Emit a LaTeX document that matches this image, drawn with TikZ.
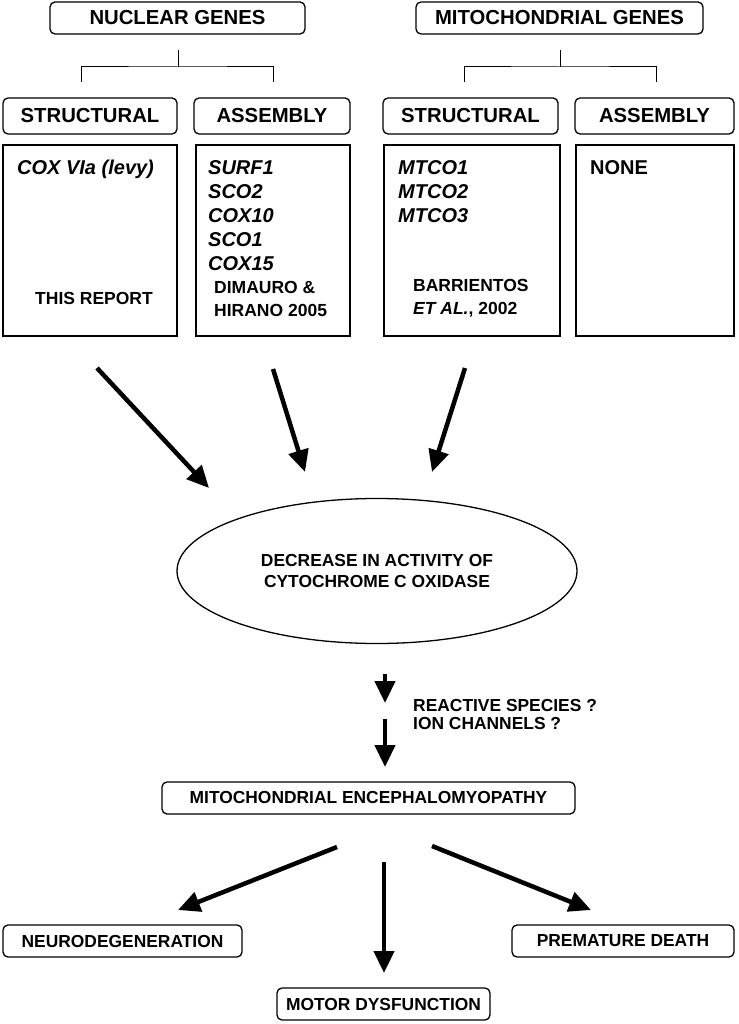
\documentclass[tikz,border=0pt]{standalone}
\usepackage{fontspec}
\setmainfont{Liberation Sans}
\usetikzlibrary{positioning,shapes.geometric,arrows.meta}

\begin{document}
\begin{tikzpicture}[x=1pt, y=-1pt,
    font=\bfseries,
    group/.style={rectangle, rounded corners=5pt, draw, line width=1.3pt, inner sep=0pt,
                  minimum height=32pt, font=\fontsize{20.3}{24}\selectfont\bfseries},
    kind/.style={group, minimum height=36pt},
    listbox/.style={rectangle, draw, line width=1.3pt, inner sep=0pt, minimum height=191pt},
    genes/.style={anchor=north west, align=left, inner sep=0pt,
                  font=\fontsize{20}{24}\selectfont\bfseries\itshape},
    cite/.style={align=left, inner sep=0pt, font=\fontsize{17.5}{23}\selectfont\bfseries},
    effect/.style={rectangle, rounded corners=5pt, draw, line width=1.3pt, inner sep=0pt,
                   minimum height=32pt, font=\fontsize{17.4}{21}\selectfont\bfseries},
    tree/.style={line width=1pt},
    fat/.style={line width=4.5pt, -{Triangle[length=22pt,width=20pt]}},
  ]
  \useasboundingbox (0,0) rectangle (738,1024);

  % NUCLEAR GENES
  \node[group, minimum width=255pt] (ngenes) at (177.5,18) {NUCLEAR GENES};
  \node[kind, minimum width=174pt] (nstruct) at (90,116) {STRUCTURAL};
  \node[kind, minimum width=156pt] (nassem) at (272,116) {ASSEMBLY};
  \node[listbox, minimum width=174pt] (nsbox) at (90,240.5) {};
  \node[listbox, minimum width=154pt] (nabox) at (273,240.5) {};
  \node[genes] (nslist) at (17,160) {COX VIa (levy)};
  \node[genes] (nalist) at (208,160) {SURF1\\SCO2\\COX10\\SCO1\\COX15};
  \node[cite] (nsref) at (94,298) {THIS REPORT};
  \node[cite, anchor=north west] (naref) at (214,281) {DIMAURO \&\\HIRANO 2005};
  \coordinate (ntop) at (178,50);
  \coordinate (njoin) at (178,67);
  \coordinate (nleft) at (81,82);
  \coordinate (nright) at (273,82);
  \draw[tree] (ntop) -- (njoin);
  \draw[tree] (nleft) |- (njoin) -| (nright);

  % MITOCHONDRIAL GENES
  \node[group, minimum width=287pt] (mgenes) at (559.5,18) {MITOCHONDRIAL GENES};
  \node[kind, minimum width=175pt] (mstruct) at (470.5,116) {STRUCTURAL};
  \node[kind, minimum width=159pt] (massem) at (654.5,116) {ASSEMBLY};
  \node[listbox, minimum width=176pt] (msbox) at (472,240.5) {};
  \node[listbox, minimum width=158pt] (mabox) at (655,240.5) {};
  \node[genes] (mslist) at (398,160) {MTCO1\\MTCO2\\MTCO3};
  \node[genes, font=\fontsize{20}{24}\selectfont\bfseries] (malist) at (590,160) {NONE};
  \node[cite, anchor=north west] (msref) at (413,279) {BARRIENTOS\\\textit{ET AL.}, 2002};
  \coordinate (mtop) at (560,50);
  \coordinate (mjoin) at (560,67);
  \coordinate (mleft) at (464,82);
  \coordinate (mright) at (656,82);
  \draw[tree] (mtop) -- (mjoin);
  \draw[tree] (mleft) |- (mjoin) -| (mright);

  % COX DEFICIENCY
  \node[ellipse, draw, line width=1.3pt, inner sep=0pt, minimum width=400pt, minimum height=145pt,
        align=center, font=\fontsize{17.4}{21}\selectfont\bfseries] (cox) at (377,571)
        {DECREASE IN ACTIVITY OF\\CYTOCHROME C OXIDASE};
  \coordinate (a1s) at (97,368);  \coordinate (a1e) at (209,488);
  \coordinate (a2s) at (273,369); \coordinate (a2e) at (305,472);
  \coordinate (a3s) at (465,368); \coordinate (a3e) at (432,472);
  \draw[fat] (a1s) -- (a1e);
  \draw[fat] (a2s) -- (a2e);
  \draw[fat] (a3s) -- (a3e);

  % DISEASE
  \coordinate (s1s) at (385,674); \coordinate (s1e) at (385,703);
  \coordinate (s2s) at (385,719); \coordinate (s2e) at (385,767);
  \draw[fat] (s1s) -- (s1e);
  \draw[fat] (s2s) -- (s2e);
  \node[cite, anchor=north west, font=\fontsize{17.4}{18}\selectfont\bfseries] (why) at (413,699)
        {REACTIVE SPECIES ?\\ION CHANNELS ?};
  \node[effect, minimum width=413pt] (disease) at (368.5,798) {MITOCHONDRIAL ENCEPHALOMYOPATHY};

  % OUTCOMES
  \node[effect, minimum width=239pt] (neuro) at (122.5,941) {NEURODEGENERATION};
  \node[effect, minimum width=222pt] (death) at (623,941) {PREMATURE DEATH};
  \node[effect, minimum width=213pt] (motor) at (383.5,1004) {MOTOR DYSFUNCTION};
  \coordinate (b1s) at (337,847); \coordinate (b1e) at (178,910);
  \coordinate (b2s) at (384,862); \coordinate (b2e) at (384,973);
  \coordinate (b3s) at (432,846); \coordinate (b3e) at (591,910);
  \draw[fat] (b1s) -- (b1e);
  \draw[fat] (b2s) -- (b2e);
  \draw[fat] (b3s) -- (b3e);

\end{tikzpicture}
\end{document}
